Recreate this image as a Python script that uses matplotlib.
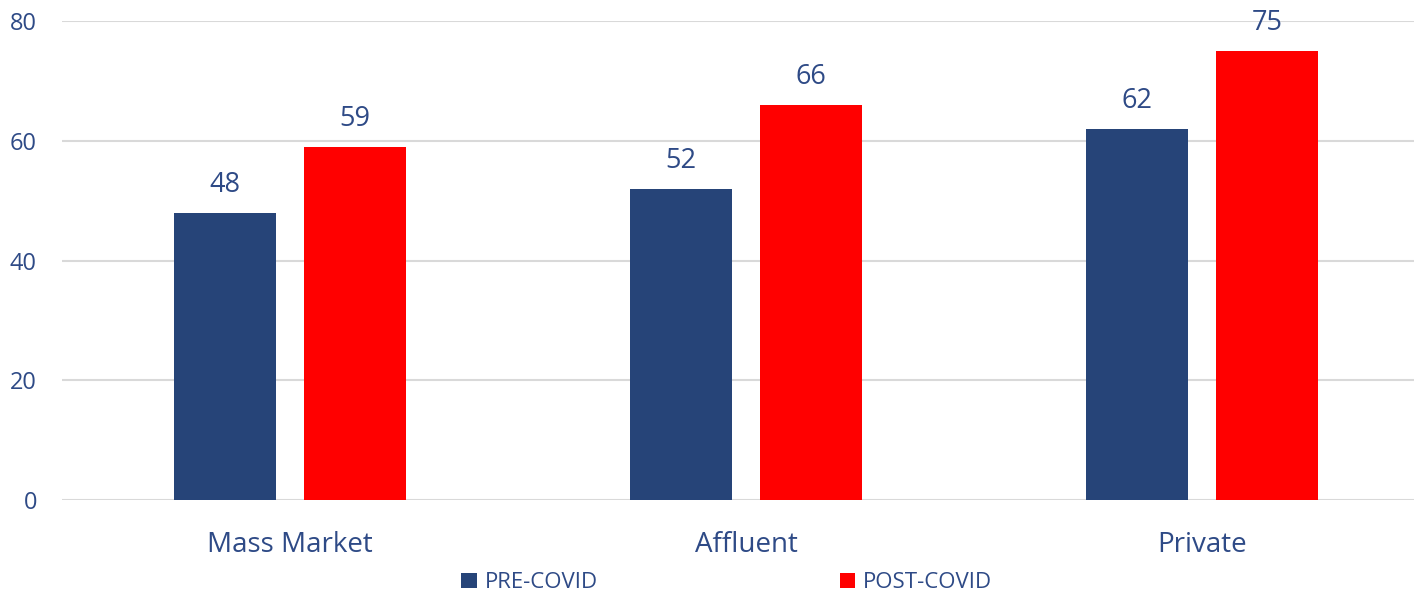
import numpy as np
import matplotlib.pyplot as plt

categories = ["Mass Market", "Affluent", "Private"]
pre_covid = [48, 52, 62]
post_covid = [59, 66, 75]
series_names = ["PRE-COVID", "POST-COVID"]

blue = "#264478"
red = "#FF0000"
text_color = "#2E4A86"

plt.rcParams['font.family'] = ['Open Sans', 'DejaVu Sans']

fig = plt.figure(figsize=(14.14, 5.93), dpi=100)
ax = fig.add_axes([62 / 1414, 93 / 593, 1352 / 1414, 479 / 593])

x = np.arange(len(categories))
w = 0.224
b1 = ax.bar(x - 0.142, pre_covid, w, color=blue, label=series_names[0], zorder=3)
b2 = ax.bar(x + 0.142, post_covid, w, color=red, label=series_names[1], zorder=3)

# value labels above the bars
for bars in (b1, b2):
    for r in bars:
        ax.annotate(str(int(r.get_height())), (r.get_x() + r.get_width() / 2, r.get_height()),
                    xytext=(0, 10), textcoords="offset points", ha="center", va="bottom",
                    fontsize=19.5, color=text_color, annotation_clip=False)

ax.set_xlim(-0.5, 2.5 - 16 / 456)
ax.set_ylim(0, 80)
ax.set_yticks([0, 20, 40, 60, 80])
ax.set_xticks(x)
ax.set_xticklabels(categories)
ax.grid(axis="y", color="#D9D9D9", linewidth=1.5, zorder=0)
for s in ax.spines.values():
    s.set_visible(False)
ax.tick_params(axis="both", length=0, colors=text_color)
ax.tick_params(axis="y", labelsize=17, pad=18)
ax.tick_params(axis="x", labelsize=20, pad=22)

fig.legend(loc="center", bbox_to_anchor=(0.514, 0.017), ncol=2, frameon=False,
           fontsize=16, labelcolor=text_color, handlelength=0.7, handleheight=0.7,
           handletextpad=0.35, columnspacing=10.9)

fig.savefig("out.png", dpi=100)
